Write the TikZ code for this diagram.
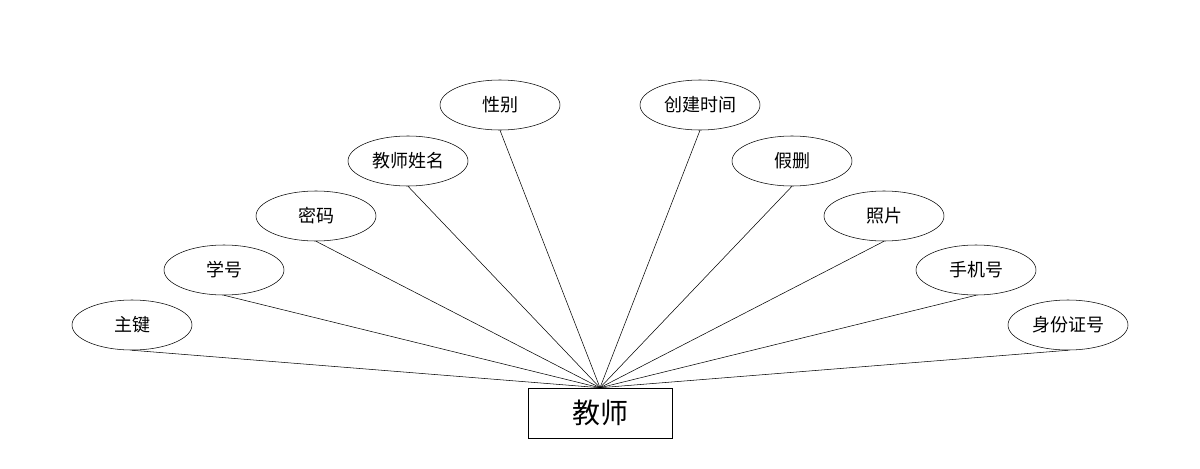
\documentclass[tikz,border=0pt]{standalone}
\usepackage{fontspec}
\setmainfont{Noto Sans CJK SC}
\usetikzlibrary{shapes.geometric}

\tikzset{
    attr/.style={draw, ellipse, minimum width=90pt, minimum height=37.5pt, inner sep=0pt, font=\fontsize{13.5}{15}\selectfont},
    entity/.style={draw, rectangle, minimum width=108pt, minimum height=37.5pt, inner sep=0pt, font=\fontsize{21}{24}\selectfont}
}

\begin{document}
\begin{tikzpicture}[x=0.75pt, y=-0.75pt]
    \useasboundingbox (0,0) rectangle (1200,468);

    % entity
    \node[entity] (teacher) at (600,413) {教师};

    % attributes
    \node[attr] (id)      at (132,325)  {主键};
    \node[attr] (num)     at (224,270)  {学号};
    \node[attr] (pwd)     at (316,216)  {密码};
    \node[attr] (name)    at (408,161)  {教师姓名};
    \node[attr] (sex)     at (500,105)  {性别};
    \node[attr] (created) at (700,105)  {创建时间};
    \node[attr] (del)     at (792,161)  {假删};
    \node[attr] (photo)   at (884,216)  {照片};
    \node[attr] (phone)   at (976,270)  {手机号};
    \node[attr] (card)    at (1068,325) {身份证号};

    % links
    \foreach \a in {id, num, pwd, name, sex, created, del, photo, phone, card}
        \draw (\a.south) -- (teacher.north);
\end{tikzpicture}
\end{document}
